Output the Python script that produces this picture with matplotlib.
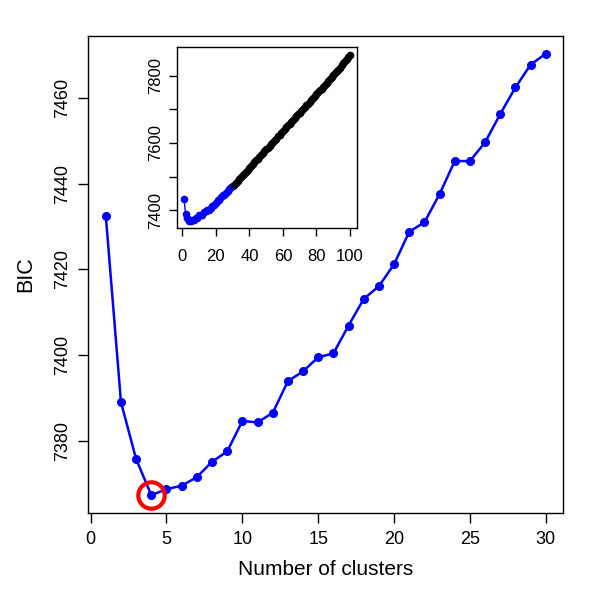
import matplotlib
matplotlib.use("Agg")
import matplotlib.pyplot as plt
import numpy as np

plt.rcParams['font.family'] = ['Liberation Sans', 'DejaVu Sans']

# Main series: BIC for 1..30 clusters
clusters = list(range(1, 31))
bic = [7432.5, 7389.0, 7375.7, 7367.3, 7368.7, 7369.5, 7371.5, 7375.1, 7377.5, 7384.6,
       7384.3, 7386.5, 7393.9, 7396.2, 7399.5, 7400.4, 7406.9, 7413.1, 7416.1, 7421.2,
       7428.8, 7431.0, 7437.6, 7445.3, 7445.3, 7449.7, 7456.3, 7462.5, 7467.8, 7470.4]

# Extended series for the inset: 31..100 clusters
clusters_ext = list(range(31, 101))
bic_ext = [7475.6, 7480.9, 7487.2, 7492.0, 7498.3, 7503.1, 7508.9, 7514.6, 7519.8, 7526.0,
           7531.3, 7537.9, 7542.4, 7548.1, 7553.6, 7558.7, 7564.9, 7569.5, 7575.8, 7581.2,
           7586.0, 7592.3, 7597.1, 7602.9, 7608.4, 7613.0, 7619.6, 7624.3, 7630.1, 7635.7,
           7640.8, 7646.2, 7652.5, 7657.1, 7663.0, 7668.9, 7673.4, 7679.6, 7684.8, 7690.2,
           7695.5, 7701.3, 7706.0, 7712.2, 7717.4, 7722.6, 7728.8, 7733.7, 7739.5, 7745.0,
           7750.9, 7756.3, 7762.0, 7767.8, 7773.1, 7779.4, 7784.6, 7790.5, 7796.0, 7801.9,
           7807.2, 7813.4, 7818.8, 7824.5, 7831.0, 7837.0, 7843.0, 7849.0, 7856.0, 7863.0]

best_k = 4

main_xticks = [0, 5, 10, 15, 20, 25, 30]
main_yticks = [7380, 7400, 7420, 7440, 7460]
inset_xticks = [0, 20, 40, 60, 80, 100]
inset_yticks = [7400, 7500, 7600, 7700, 7800]
inset_ylabels = ['7400', '', '7600', '', '7800']

fig = plt.figure(figsize=(6, 6), dpi=100)
ax = fig.add_axes([0.147, 0.1455, 0.792, 0.7945])

ax.plot(clusters, bic, color='blue', lw=1.8, marker='o', ms=5.5, zorder=3)
i = clusters.index(best_k)
ax.plot([clusters[i]], [bic[i]], marker='o', ms=19, mfc='none', mec='red', mew=3, zorder=4)

ax.set_xlim(-0.16, 31.16)
ax.set_ylim(7363.2, 7474.5)
ax.set_xticks(main_xticks)
ax.set_yticks(main_yticks)
ax.set_yticklabels([str(v) for v in main_yticks], rotation=90, va='center')
ax.tick_params(direction='out', length=7, width=1, labelsize=13, pad=5)
ax.tick_params(axis='x', pad=6)
ax.set_xlabel('Number of clusters', fontsize=15, labelpad=9)
ax.set_ylabel('BIC', fontsize=15.5, labelpad=13)
for s in ax.spines.values():
    s.set_linewidth(1)

# Inset
ins = fig.add_axes([0.2955, 0.6205, 0.299, 0.3007])
ins.plot(clusters, bic, color='blue', lw=1, marker='o', ms=4.5, zorder=3)
ins.plot(clusters_ext, bic_ext, color='black', lw=1, marker='o', ms=4.5, zorder=3)
ins.set_xlim(-2.96, 103.96)
ins.set_ylim(7347.5, 7885.0)
ins.set_xticks(inset_xticks)
ins.set_yticks(inset_yticks)
ins.set_yticklabels(inset_ylabels, rotation=90, va='center')
ins.tick_params(direction='out', length=6, width=1, labelsize=12, pad=4)
ins.tick_params(axis='x', pad=9)
for s in ins.spines.values():
    s.set_linewidth(1)

fig.savefig('out.png', dpi=100)
